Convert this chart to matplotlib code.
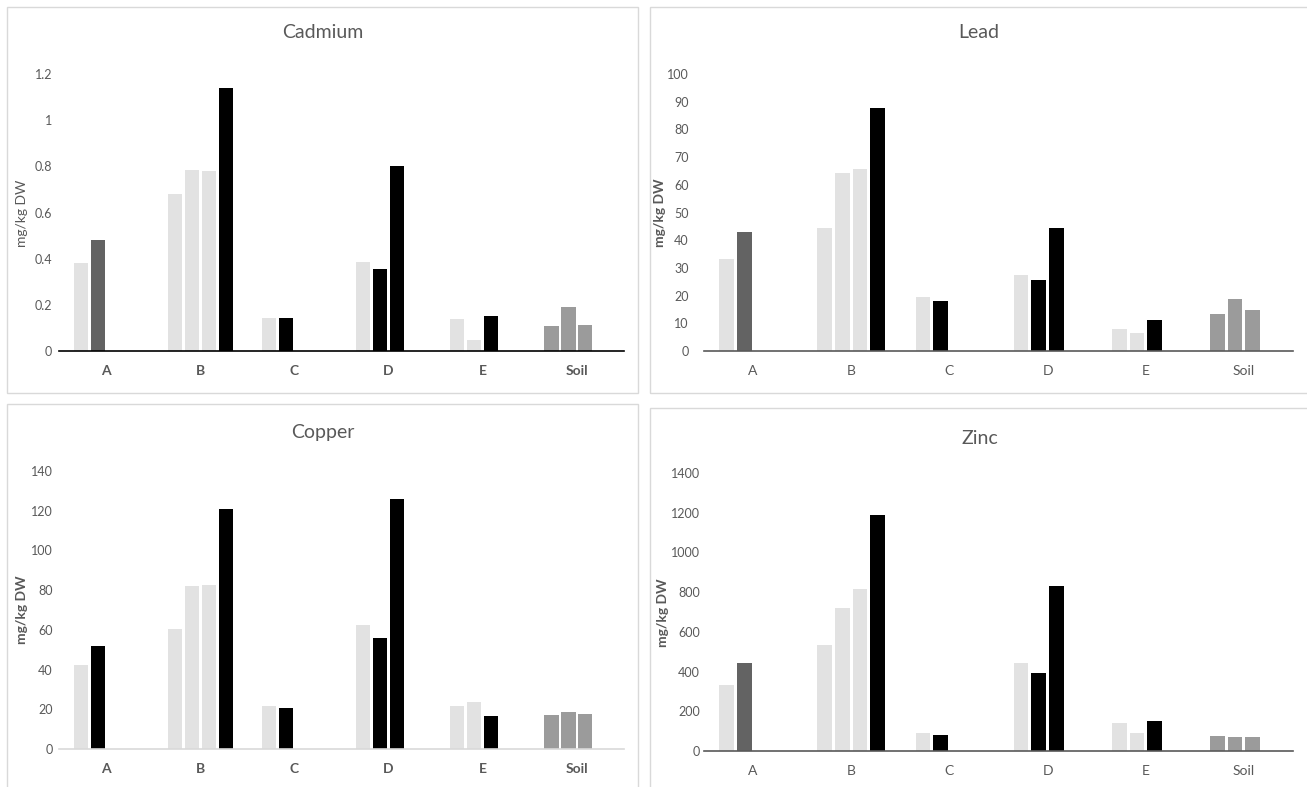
import matplotlib
matplotlib.use('Agg')
import matplotlib.pyplot as plt
from matplotlib.patches import Rectangle
import numpy as np

plt.rcParams['font.family'] = ['Lato', 'DejaVu Sans']

W, H = 1307, 787

categories = ['A', 'B', 'C', 'D', 'E', 'Soil']

cadmium = [[0.38, 0.48], [0.68, 0.784, 0.78, 1.139], [0.143, 0.143],
           [0.386, 0.355, 0.801], [0.139, 0.048, 0.152], [0.108, 0.19, 0.113]]
lead = [[33.2, 43.0], [44.4, 64.3, 65.7, 87.7], [19.5, 18.1],
        [27.4, 25.6, 44.4], [7.9, 6.5, 11.2], [13.4, 18.8, 14.8]]
copper = [[42.4, 51.9], [60.5, 82.2, 82.6, 120.7], [21.8, 20.8],
          [62.5, 55.9, 125.8], [21.8, 23.6, 16.7], [17.2, 18.8, 17.8]]
zinc = [[331, 443], [533, 720, 816, 1190], [89, 79],
        [443, 392, 831], [140, 89, 150], [74, 69, 69]]

L, DG, K, M = '#e2e2e2', '#636363', '#000000', '#9b9b9b'
shades = [[L, DG], [L, L, L, K], [L, K], [L, K, K], [L, L, K], [M, M, M]]
shades_cu = [[L, K], [L, L, L, K], [L, K], [L, K, K], [L, L, K], [M, M, M]]

TXT = '#595959'

fig = plt.figure(figsize=(W / 100, H / 100), dpi=100)

def px_axes(x0, x1, ytop, ybot):
    return fig.add_axes([x0 / W, 1 - ybot / H, (x1 - x0) / W, (ybot - ytop) / H])

# panel frames
for (x0, y0, x1, y1) in [(7, 7, 638, 393), (650, 7, 1320, 393),
                         (7, 404, 638, 800), (650, 408, 1320, 800)]:
    fig.add_artist(Rectangle((x0 / W, 1 - y1 / H), (x1 - x0) / W, (y1 - y0) / H,
                             transform=fig.transFigure, fill=False,
                             edgecolor='#d9d9d9', lw=1.0))

panels = [
    dict(name='Cadmium', data=cadmium, cols=shades, rect=(59, 624, 74, 351),
         ymax=1.2, step=0.2, base='#000000', bold_x=True, bold_y=False,
         pad=5, title=(323, 33), ylab=(22, 213)),
    dict(name='Lead', data=lead, cols=shades, rect=(704, 1293, 74, 351),
         ymax=100, step=10, base='#595959', bold_x=False, bold_y=True,
         pad=11, title=(979, 33), ylab=(660, 213)),
    dict(name='Copper', data=copper, cols=shades_cu, rect=(59, 624, 471, 749),
         ymax=140, step=20, base='#d9d9d9', bold_x=True, bold_y=True,
         pad=4.5, title=(323, 432), ylab=(22, 610)),
    dict(name='Zinc', data=zinc, cols=shades, rect=(704, 1293, 473, 751),
         ymax=1400, step=200, base='#595959', bold_x=False, bold_y=True,
         pad=3, title=(980, 439), ylab=(663, 613)),
]

slot = 0.18
bw = 0.15

for p in panels:
    ax = px_axes(*p['rect'])
    for i, vals in enumerate(p['data']):
        for j, v in enumerate(vals):
            ax.bar(i + (j - 1.5) * slot, v, width=bw, color=p['cols'][i][j], zorder=2)
    ax.set_xlim(-0.5, len(categories) - 0.5)
    ax.set_ylim(0, p['ymax'])
    ticks = np.arange(0, p['ymax'] + p['step'] / 2, p['step'])
    ax.set_yticks(ticks)
    ax.set_yticklabels(['%g' % round(t, 2) for t in ticks], color=TXT, fontsize=9)
    ax.set_xticks(range(len(categories)))
    ax.set_xticklabels(categories, color=TXT, fontsize=10,
                       fontweight='bold' if p['bold_x'] else 'normal')
    ax.tick_params(axis='both', length=0)
    ax.tick_params(axis='y', pad=p['pad'])
    ax.tick_params(axis='x', pad=10)
    for s in ['top', 'right', 'left']:
        ax.spines[s].set_visible(False)
    ax.spines['bottom'].set_color(p['base'])
    ax.spines['bottom'].set_linewidth(1.2)
    ax.spines['bottom'].set_zorder(3)
    ax.patch.set_alpha(0)
    tx, ty = p['title']
    fig.text(tx / W, 1 - ty / H, p['name'], ha='center', va='center',
             fontsize=14, color=TXT)
    lx, ly = p['ylab']
    fig.text(lx / W, 1 - ly / H, 'mg/kg DW', ha='center', va='center', rotation=90,
             fontsize=10, color=TXT, fontweight='bold' if p['bold_y'] else 'normal')

fig.savefig('out.png', dpi=100, facecolor='white')
